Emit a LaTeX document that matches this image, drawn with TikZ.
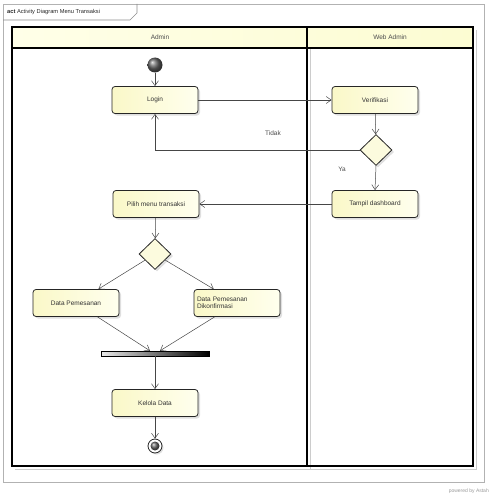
\documentclass[tikz,border=0pt]{standalone}
\usepackage{fontspec}
\setmainfont{Liberation Sans}
\usetikzlibrary{shapes.geometric,arrows.meta,shadows}
\definecolor{nodeA}{RGB}{250,248,200}
\definecolor{nodeB}{RGB}{255,255,238}
\definecolor{hdrA}{RGB}{255,255,232}
\definecolor{hdrB}{RGB}{252,252,210}
\definecolor{linec}{RGB}{70,70,70}
\begin{document}
\begin{tikzpicture}[x=1pt,y=-1pt,
  font=\fontsize{6.5}{7.5}\selectfont,
  actbox/.style={draw=black!85, line width=0.8pt, rounded corners=3pt,
    left color=nodeA, right color=nodeB, minimum width=86pt, minimum height=27pt,
    inner sep=1pt, align=left, text=black!80,
    drop shadow={shadow xshift=2pt, shadow yshift=-2pt, opacity=0.25}},
  decis/.style={draw=black!85, line width=0.8pt, shape=diamond, fill=nodeA!60!white,
    minimum width=32pt, minimum height=31pt, inner sep=0pt,
    drop shadow={shadow xshift=2pt, shadow yshift=-2pt, opacity=0.25}},
  flow/.style={draw=linec, line width=0.5pt, -{Straight Barb[length=5pt,width=7pt]}},
  lbl/.style={text=black!70}
]
\useasboundingbox (0,0) rectangle (492,495);
% outer frame
\draw[black!30, line width=0.6pt] (3,4) rectangle (484,482);
\draw[black!45, line width=0.6pt] (3,20) -- (130,20) -- (137,13) -- (137,4);
\node[anchor=west, inner sep=0pt, font=\fontsize{5.7}{7}\selectfont, text=black!85] (title) at (7,12) {\textbf{act} Activity Diagram Menu Transaksi};
% lane shadow
\draw[black!20, line width=1pt] (15,469) -- (476,469) -- (476,30);
\draw[black!20, line width=0.8pt] (310,48) -- (310,469);
% lanes
\fill[left color=hdrA, right color=hdrB] (12,27) rectangle (473,48);
\draw[black, line width=1.1pt] (12,27) rectangle (473,466);
\draw[black, line width=1.1pt] (12,48) -- (473,48);
\draw[black, line width=1.1pt] (307,27) -- (307,466);
\node[lbl] (laneA) at (160,37.5) {Admin};
\node[lbl] (laneB) at (390,37.5) {Web Admin};
% nodes
\shade[ball color=black!60] (155,65) circle (7.5);
\node[circle, minimum size=15pt, inner sep=0pt] (init) at (155,65) {};
\node[actbox, align=center] (login) at (155,100) {Login};
\node[actbox, align=center] (verif) at (375,100) {Verifikasi};
\node[decis] (d1) at (376,150) {};
\node[actbox, align=center] (tampil) at (375,204) {Tampil dashboard};
\node[actbox] (pilih) at (156,204) {Pilih menu transaksi};
\node[decis] (d2) at (155,254) {};
\node[actbox] (dp) at (76,303) {Data Pemesanan};
\node[actbox, text width=80pt] (dk) at (237,303) {Data Pemesanan\\Dikonfirmasi};
\node[draw=black, line width=0.4pt, left color=black!8, right color=black, minimum width=108pt, minimum height=5pt, inner sep=0pt] (bar) at (155,353.5) {};
\node[actbox, align=center] (kelola) at (155,403) {Kelola Data};
\node[circle, draw=black!85, line width=0.8pt, fill=white, minimum size=14pt, inner sep=0pt,
   drop shadow={shadow xshift=1.5pt, shadow yshift=-1.5pt, opacity=0.25}] (final) at (155,446) {};
\shade[ball color=black!60] (155,446) circle (4.5);
% connectors
\draw[flow] (init) -- (login);
\draw[flow] (login) -- (verif);
\draw[flow] (verif) -- (d1);
\draw[flow] (d1.west) -| (login.south);
\node[lbl] (tidak) at (273,133) {Tidak};
\draw[flow] (d1.south) -- (tampil.north);
\node[lbl] (ya) at (342,169) {Ya};
\draw[flow] (tampil) -- (pilih);
\draw[flow] (pilih) -- (d2);
\draw[flow] (d2) -- (dp);
\draw[flow] (d2) -- (dk);
\coordinate (barL) at ([xshift=-5pt]bar.north);
\coordinate (barR) at ([xshift=5pt]bar.north);
\draw[flow] (dp) -- (barL);
\draw[flow] (dk) -- (barR);
\draw[flow] (bar.south) -- (kelola.north);
\draw[flow] (kelola) -- (final);
% footer
\node[anchor=east, inner sep=0pt, font=\fontsize{5}{6}\selectfont, text=black!40] (foot) at (489,491) {powered by Astah};
\end{tikzpicture}
\end{document}
